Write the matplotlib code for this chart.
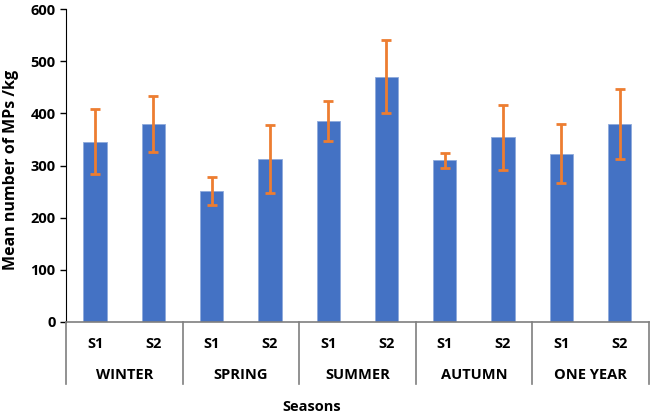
import matplotlib.pyplot as plt
import matplotlib.transforms as mtransforms

seasons = ["WINTER", "SPRING", "SUMMER", "AUTUMN", "ONE YEAR"]
sites = ["S1", "S2"]
means = [346, 380, 251, 312, 385, 470, 310, 354, 323, 379]
errors = [63, 54, 27, 65, 38, 70, 14, 62, 57, 67]

plt.rcParams["font.family"] = ["Open Sans", "DejaVu Sans"]
plt.rcParams["font.weight"] = "bold"

fig = plt.figure(figsize=(6.5, 4.17), dpi=100)
ax = fig.add_axes([0.1015, 0.228, 0.8965, 0.75])

x = list(range(len(means)))
ax.bar(x, means, width=0.4, color="#4472C4", edgecolor="#8FAADC", linewidth=0.6, zorder=2)
ax.errorbar(x, means, yerr=errors, fmt="none", ecolor="#ED7D31", elinewidth=2,
            capsize=3.5, capthick=2, zorder=3)

ax.set_xlim(-0.5, len(means) - 0.5)
ax.set_ylim(0, 600)
ax.set_yticks(range(0, 601, 100))
ax.tick_params(axis="y", labelsize=10.5, length=4, width=1, color="black")
ax.tick_params(axis="x", length=0, labelbottom=False)
for lbl in ax.get_yticklabels():
    lbl.set_fontweight("bold")

ax.spines["top"].set_visible(False)
ax.spines["right"].set_visible(False)
ax.spines["left"].set_color("black")
ax.spines["bottom"].set_color("#7F7F7F")
ax.spines["bottom"].set_linewidth(1.2)

trans = mtransforms.blended_transform_factory(ax.transData, ax.transAxes)
for i in range(len(means)):
    ax.text(i, -0.07, sites[i % 2], transform=trans, ha="center", va="center",
            fontsize=10.5, fontweight="bold")
for g, name in enumerate(seasons):
    ax.text(2 * g + 0.5, -0.17, name, transform=trans, ha="center", va="center",
            fontsize=10.5, fontweight="bold")
for b in range(len(seasons) + 1):
    ax.plot([2 * b - 0.5, 2 * b - 0.5], [0, -0.2], transform=trans, color="#7F7F7F",
            linewidth=1.2, clip_on=False)

fig.text(312 / 650, 1 - 407 / 417, "Seasons", ha="center", va="center",
         fontsize=10.5, fontweight="bold")
ax.set_ylabel("Mean number of MPs /kg", fontsize=11.5, fontweight="bold")
ax.yaxis.set_label_coords(-0.081, 0.486)

fig.savefig("out.png", dpi=100)
